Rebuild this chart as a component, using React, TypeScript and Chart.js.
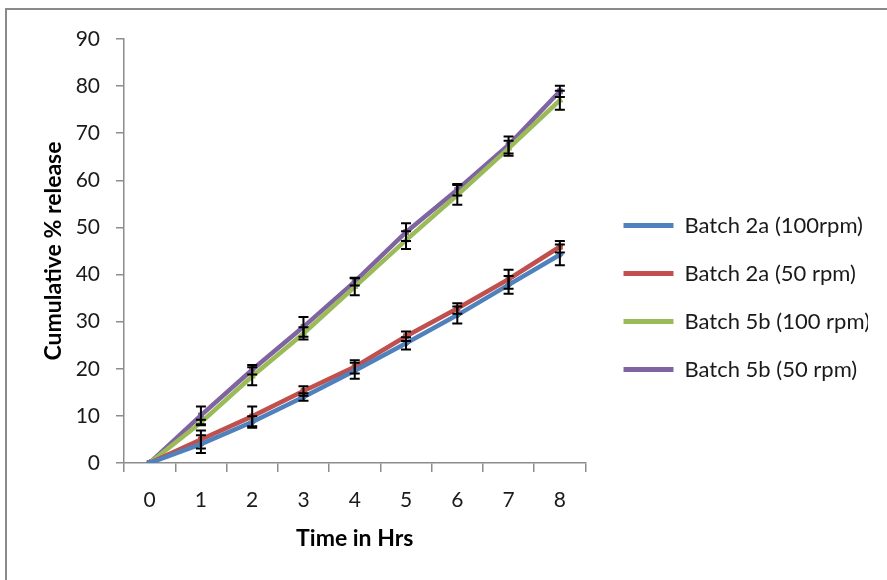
import React, { useEffect, useRef } from "react";
import { Chart, registerables } from "chart.js";

Chart.register(...registerables);

const hours = ["0", "1", "2", "3", "4", "5", "6", "7", "8"];
const seriesNames = ["Batch 2a (100rpm)", "Batch 2a (50 rpm)", "Batch 5b (100 rpm)", "Batch 5b (50 rpm)"];

const batch2a100 = [0, 4.0, 8.7, 14.0, 19.6, 25.4, 31.4, 37.8, 44.2];
const batch2a50 = [0, 5.0, 9.9, 15.3, 20.4, 26.9, 32.8, 39.0, 45.9];
const batch5b100 = [0, 8.6, 18.4, 27.5, 37.4, 47.3, 56.9, 66.8, 77.0];
const batch5b50 = [0, 10.1, 19.8, 28.9, 38.5, 49.0, 58.0, 67.5, 78.9];

const err2a100 = [0, 1.9, 1.2, 0.8, 1.7, 1.3, 1.8, 1.9, 2.2];
const err2a50 = [0, 1.9, 2.1, 1.0, 1.4, 1.0, 1.1, 2.0, 1.2];
const err5b100 = [0, 0.6, 1.9, 1.3, 1.8, 1.9, 2.1, 1.6, 2.0];
const err5b50 = [0, 1.9, 1.0, 2.1, 0.8, 1.9, 1.2, 1.8, 1.2];

const yMin = 0;
const yMax = 90;
const yStep = 10;

const colors = ["#4F81BD", "#C0504D", "#9BBB59", "#8064A2"];
const pointStyles = ["rectRot", "rect", "triangle", "rect"];

const errorBars = {
  id: "errorBars",
  afterDatasetsDraw(chart: any) {
    const ctx = chart.ctx;
    const xs = chart.scales.x;
    const ys = chart.scales.y;
    ctx.save();
    ctx.strokeStyle = "#000";
    ctx.lineWidth = 2;
    chart.data.datasets.forEach((ds: any) => {
      const errs: number[] = ds.errors || [];
      ds.data.forEach((v: number, i: number) => {
        const e = errs[i];
        if (!e) return;
        const x = xs.getPixelForValue(i);
        const yTop = ys.getPixelForValue(v + e);
        const yBot = ys.getPixelForValue(v - e);
        ctx.beginPath();
        ctx.moveTo(x, yTop);
        ctx.lineTo(x, yBot);
        ctx.moveTo(x - 5, yTop);
        ctx.lineTo(x + 5, yTop);
        ctx.moveTo(x - 5, yBot);
        ctx.lineTo(x + 5, yBot);
        ctx.stroke();
      });
    });
    ctx.restore();
  },
};

const legendShift = {
  id: "legendShift",
  afterLayout(chart: any) {
    if (chart.legend) {
      chart.legend.left += 12;
    }
  },
};

export default function App() {
  const ref = useRef<HTMLCanvasElement>(null);

  useEffect(() => {
    if (!ref.current) return;
    const values = [batch2a100, batch2a50, batch5b100, batch5b50];
    const errs = [err2a100, err2a50, err5b100, err5b50];
    const chart = new Chart(ref.current, {
      type: "line",
      data: {
        labels: hours,
        datasets: seriesNames.map((name, k) => ({
          label: name,
          data: values[k],
          errors: errs[k],
          borderColor: colors[k],
          backgroundColor: colors[k],
          borderWidth: 4.5,
          pointStyle: pointStyles[k] as any,
          pointRadius: 3.5,
          pointBorderWidth: 1,
          tension: 0,
        })) as any,
      },
      options: {
        responsive: false,
        animation: false,
        layout: { padding: { left: 36, top: 39, bottom: 24, right: 19 } },
        plugins: {
          tooltip: { enabled: false },
          legend: {
            position: "right",
            maxWidth: 320,
            labels: {
              boxWidth: 50,
              boxHeight: 5,
              padding: 26,
              color: "#1a1a1a",
              font: { family: "Lato", size: 22 },
              generateLabels: (c: any) =>
                Chart.defaults.plugins.legend.labels
                  .generateLabels(c)
                  .map((l: any) => ({ ...l, lineWidth: 0 })),
            },
          },
        },
        scales: {
          x: {
            type: "category",
            offset: true,
            grid: {
              display: true,
              offset: true,
              drawOnChartArea: false,
              drawTicks: true,
              tickLength: 9,
              color: "#8c8c8c",
              lineWidth: 1.5,
            },
            border: { display: true, color: "#8c8c8c", width: 1.5 },
            ticks: {
              color: "#1a1a1a",
              font: { family: "Lato", size: 21 },
              padding: 16,
              maxRotation: 0,
            },
            title: {
              display: true,
              text: "Time in Hrs",
              color: "#000",
              font: { family: "Lato", size: 23, weight: "bold" },
              padding: { top: 0, bottom: 4 },
            },
            afterFit: (s: any) => {
              s.height = 93;
            },
          },
          y: {
            min: yMin,
            max: yMax,
            grid: {
              display: true,
              drawOnChartArea: false,
              drawTicks: true,
              tickLength: 8,
              color: "#8c8c8c",
              lineWidth: 1.5,
            },
            border: { display: true, color: "#8c8c8c", width: 1.5 },
            ticks: {
              stepSize: yStep,
              color: "#1a1a1a",
              font: { family: "Lato", size: 21 },
              padding: 16,
            },
            title: {
              display: true,
              text: "Cumulative % release",
              color: "#000",
              font: { family: "Lato", size: 23, weight: "bold" },
              padding: { top: 4, bottom: 0 },
            },
            afterFit: (s: any) => {
              s.width = 88;
            },
          },
        },
      },
      plugins: [errorBars, legendShift],
    });
    return () => chart.destroy();
  }, []);

  return (
    <div style={{ position: "absolute", left: 0, top: 0, width: 887, height: 580, overflow: "hidden", background: "#fff" }}>
      <div
        style={{
          position: "absolute",
          left: 5,
          top: 8,
          width: 900,
          height: 600,
          borderLeft: "2px solid #8a8a8a",
          borderTop: "2px solid #8a8a8a",
        }}
      />
      <canvas ref={ref} width={887} height={580} style={{ position: "absolute", left: 0, top: 0 }} />
    </div>
  );
}
